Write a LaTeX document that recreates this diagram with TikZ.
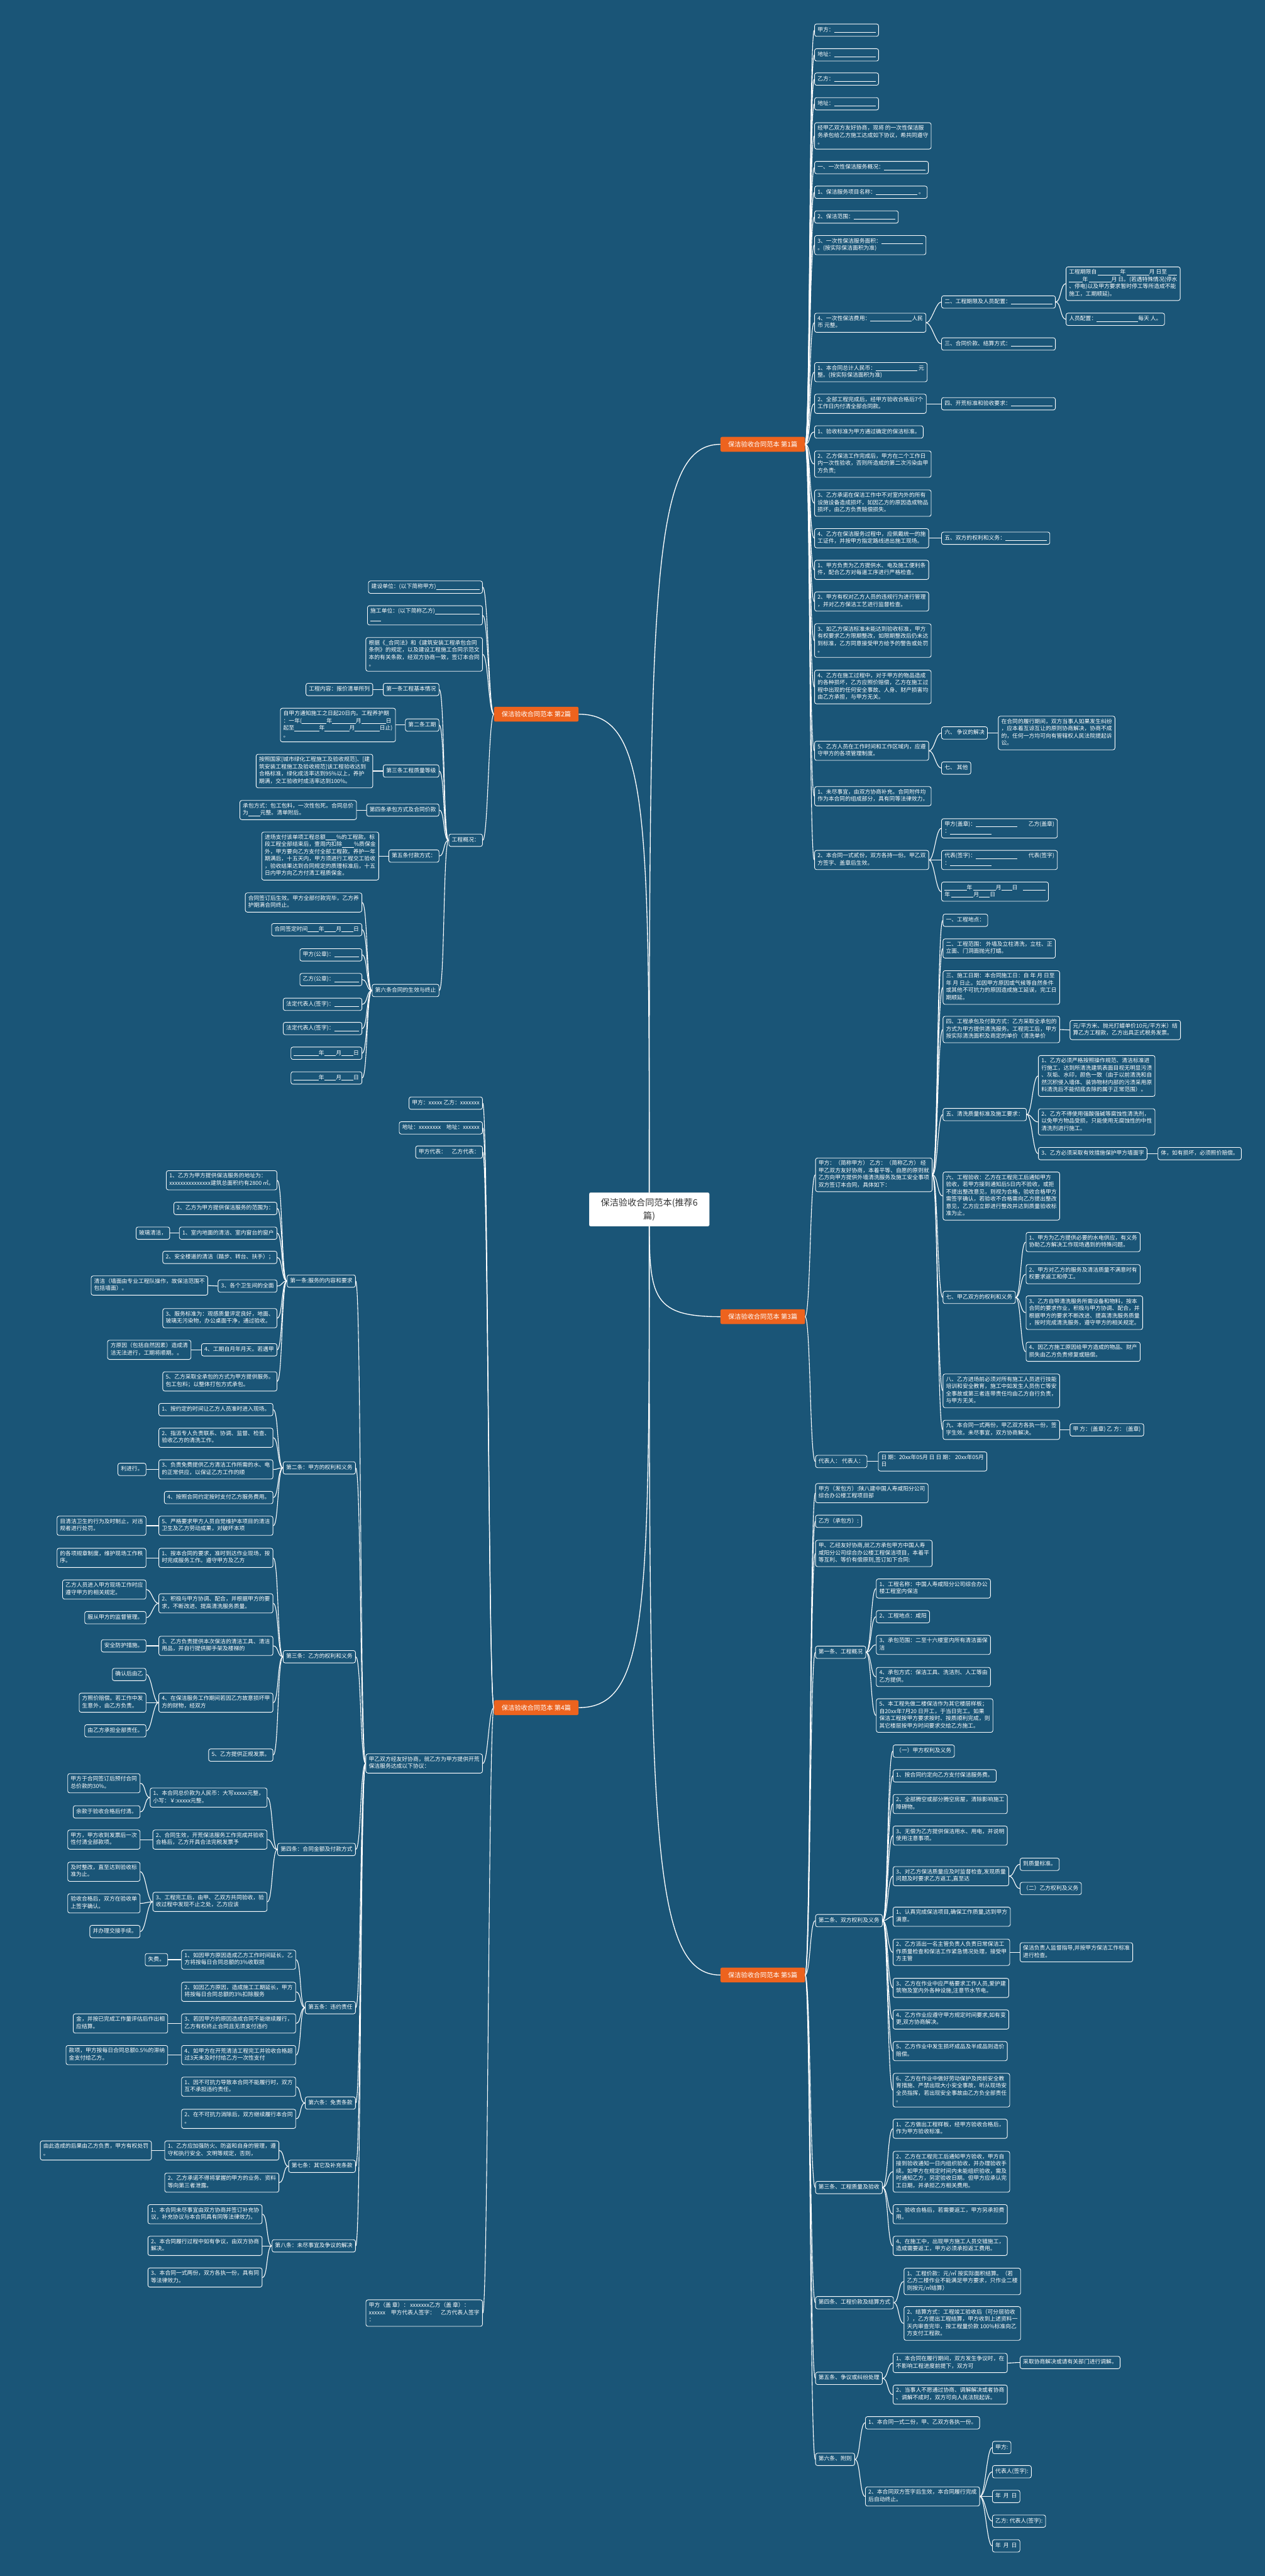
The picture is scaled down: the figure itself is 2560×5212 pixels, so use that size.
\documentclass[tikz,border=0pt]{standalone}
\usepackage{fontspec}
\setmainfont{Noto Sans CJK SC}
\usetikzlibrary{calc}
\pgfdeclarelayer{bg}
\pgfsetlayers{bg,main}
\definecolor{bgc}{RGB}{26,85,119}
\definecolor{org}{RGB}{237,99,30}
\definecolor{ctxt}{RGB}{51,51,51}
\newcommand\bl[1]{\rule[-1.8pt]{#1pt}{0.7pt}}
\tikzset{
  bx/.style={draw=white, line width=1.1pt, rounded corners=4pt, fill=bgc, text=white,
    font=\fontsize{11.2}{14.6}\selectfont, align=left, inner xsep=6pt, inner ysep=5.2pt,
    execute at begin node=\strut, execute at end node=\strut},
  rt/.style={bx, anchor=west},
  lt/.style={bx, anchor=east},
  orgbox/.style={fill=org, text=white, rounded corners=3pt, font=\fontsize{13}{16}\selectfont,
    minimum width=171pt, minimum height=30pt, inner xsep=4pt},
  cn/.style={draw=white, line width=1.4pt},
  cnc/.style={draw=white, line width=1.7pt},
}
\newcommand\conR[2]{\draw[cn] (#1.east) .. controls +(11,0) and +(-11,0) .. (#2.west);}
\newcommand\conL[2]{\draw[cn] (#1.west) .. controls +(-11,0) and +(11,0) .. (#2.east);}
\newcommand\conC[2]{\path (cen.center |- #1.#2) coordinate (tmpk);
  \draw[cnc] (cen.center) .. controls ($(cen.center)!0.8!(tmpk)$) and (tmpk) .. (#1.#2);}
\begin{document}
\begin{tikzpicture}[x=1pt,y=-1pt]
\begin{pgfonlayer}{bg}
\fill[bgc] (0,0) rectangle (2560,5212);
\end{pgfonlayer}
\useasboundingbox (0,0) rectangle (2560,5212);

% center and branches
\node[fill=white, draw=gray!30, rounded corners=3pt, text=ctxt, font=\fontsize{18}{27}\selectfont,
  align=center, minimum width=243pt, minimum height=68pt] (cen) at (1314,2447) {保洁验收合同范本(推荐6\\篇)};
\node[orgbox, anchor=west] (b1) at (1458,899) {保洁验收合同范本 第1篇};
\node[orgbox, anchor=east] (b2) at (1171,1445) {保洁验收合同范本 第2篇};
\node[orgbox, anchor=west] (b3) at (1458,2664) {保洁验收合同范本 第3篇};
\node[orgbox, anchor=east] (b4) at (1171,3455) {保洁验收合同范本 第4篇};
\node[orgbox, anchor=west] (b5) at (1458,3996) {保洁验收合同范本 第5篇};

% ---------------- 第1篇
\node[rt] (r1) at (1648,61) {甲方：\bl{84}};
\node[rt] (r2) at (1648,111) {地址：\bl{84}};
\node[rt] (r3) at (1648,160) {乙方：\bl{84}};
\node[rt] (r4) at (1648,210) {地址：\bl{84}};
\node[rt] (r5) at (1648,275) {经甲乙双方友好协商，现将 的一次性保洁服\\务承包给乙方施工达成如下协议，希共同遵守\\。};
\node[rt] (r6) at (1648,339) {一、一次性保洁服务概况：\bl{84}};
\node[rt] (r7) at (1648,389) {1、保洁服务项目名称：\bl{84} 。};
\node[rt] (r8) at (1648,439) {2、保洁范围：\bl{84}};
\node[rt] (r9) at (1648,496) {3、一次性保洁服务面积：\bl{84}\\。(按实际保洁面积为准)};
\node[rt] (r10) at (1648,653) {4、一次性保洁费用：\bl{84}人民\\币 元整。};
\node[rt] (r10a) at (1905,611) {二、工程期限及人员配置：\bl{84}};
\node[rt] (r10a1) at (2157,574) {工程期限自 \bl{45}年 \bl{45}月 日至 \bl{17}\\\bl{27}年 \bl{45}月 日。(若遇特殊情况(停水\\、停电)以及甲方要求暂时停工等所造成不能\\施工，工期顺延)。};
\node[rt] (r10a2) at (2157,646) {人员配置：\bl{84}每天 人。};
\node[rt] (r10b) at (1905,696) {三、合同价款、结算方式：\bl{84}};
\node[rt] (r11) at (1648,753) {1、本合同总计人民币：\bl{84} 元\\整。(按实际保洁面积为准)};
\node[rt] (r12) at (1648,817) {2、全部工程完成后，经甲方验收合格后7个\\工作日内付清全部合同款。};
\node[rt] (r12a) at (1905,817) {四、开荒标准和验收要求：\bl{84}};
\node[rt] (r13) at (1648,874) {1、验收标准为甲方通过确定的保洁标准。};
\node[rt] (r14) at (1648,939) {2、乙方保洁工作完成后，甲方在二个工作日\\内一次性验收，否则所造成的第二次污染由甲\\方负责;};
\node[rt] (r15) at (1648,1018) {3、乙方承诺在保洁工作中不对室内外的所有\\设施设备造成损坏，如因乙方的原因造成物品\\损坏，由乙方负责赔偿损失。};
\node[rt] (r16) at (1648,1089) {4、乙方在保洁服务过程中，应佩戴统一的施\\工证件，并按甲方指定路线进出施工现场。};
\node[rt] (r16a) at (1905,1089) {五、双方的权利和义务：\bl{84}};
\node[rt] (r17) at (1648,1153) {1、甲方负责为乙方提供水、电及施工便利条\\件，配合乙方对每道工序进行严格检查。};
\node[rt] (r18) at (1648,1217) {2、甲方有权对乙方人员的违规行为进行管理\\，并对乙方保洁工艺进行监督检查。};
\node[rt] (r19) at (1648,1296) {3、如乙方保洁标准未能达到验收标准，甲方\\有权要求乙方限期整改，如限期整改后仍未达\\到标准，乙方同意接受甲方给予的警告或处罚\\。};
\node[rt] (r20) at (1648,1390) {4、乙方在施工过程中，对于甲方的物品造成\\的各种损坏，乙方应照价赔偿，乙方在施工过\\程中出现的任何安全事故、人身、财产损害均\\由乙方承担，与甲方无关。};
\node[rt] (r21) at (1648,1519) {5、乙方人员在工作时间和工作区域内，应遵\\守甲方的各项管理制度。};
\node[rt] (r21a) at (1905,1483) {六、 争议的解决};
\node[rt] (r21a1) at (2020,1483) {在合同的履行期间，双方当事人如果发生纠纷\\，应本着互谅互让的原则协商解决，协商不成\\的，任何一方均可向有管辖权人民法院提起诉\\讼。};
\node[rt] (r21b) at (1905,1554) {七、 其他};
\node[rt] (r22) at (1648,1611) {1、未尽事宜，由双方协商补充。合同附件均\\作为本合同的组成部分，具有同等法律效力。};
\node[rt] (r23) at (1648,1740) {2、本合同一式贰份，双方各持一份。甲乙双\\方签字、盖章后生效。};
\node[rt] (r23a) at (1905,1676) {甲方(盖章)：\bl{84}\quad\quad 乙方(盖章)\\：\bl{84}};
\node[rt] (r23b) at (1905,1740) {代表(签字)：\bl{84}\quad\quad 代表(签字)\\：\bl{84}};
\node[rt] (r23c) at (1905,1804) {\bl{45}年 \bl{45}月\bl{22}日\quad \bl{45}\\年 \bl{45}月\bl{22}日};

% ---------------- 第3篇
\node[rt] (s1) at (1650,2377) {甲方：（简称甲方） 乙方：（简称乙方） 经\\甲乙双方友好协商，本着平等、自愿的原则就\\乙方向甲方提供外墙清洗服务及施工安全事项\\双方签订本合同，具体如下：};
\node[rt] (s1a) at (1908,1862) {一、工程地点：};
\node[rt] (s1b) at (1908,1919) {二、工程范围： 外墙及立柱清洗，立柱、正\\立面、门洞面抛光打蜡。};
\node[rt] (s1c) at (1908,1998) {三、施工日期：本合同施工日：自 年 月 日至\\ 年 月 日止。如因甲方原因或气候等自然条件\\或其他不可抗力的原因造成施工延误，完工日\\期顺延。};
\node[rt] (s1d) at (1908,2083) {四、工程承包及付款方式：乙方采取全承包的\\方式为甲方提供清洗服务。工程完工后，甲方\\按实际清洗面积及商定的单价（清洗单价};
\node[rt] (s1d1) at (2165,2084) {元/平方米、抛光打蜡单价10元/平方米）结\\算乙方工程款，乙方出具正式税务发票。};
\node[rt] (s1e) at (1908,2255) {五、清洗质量标准及施工要求：};
\node[rt] (s1e1) at (2101,2177) {1、乙方必须严格按照操作规范、清洁标准进\\行施工，达到所清洗建筑表面目视无明显污渍\\、灰垢、水印，颜色一致（由于以前清洗和自\\然沉积侵入墙体、装饰物材内部的污渍采用原\\料清洗后不能彻底去除的属于正常范围）。};
\node[rt] (s1e2) at (2101,2270) {2、乙方不得使用强酸强碱等腐蚀性清洗剂，\\以免甲方物品受损，只能使用无腐蚀性的中性\\清洗剂进行施工。};
\node[rt] (s1e3) at (2101,2334) {3、乙方必须采取有效措施保护甲方墙面字};
\node[rt] (s1e3a) at (2343,2334) {体，如有损坏，必须照价赔偿。};
\node[rt] (s1f) at (1908,2420) {六、工程验收：乙方在工程完工后通知甲方\\验收，若甲方接到通知后5日内不验收，或拒\\不提出整改意见，则视为合格，验收合格甲方\\需签字确认，若验收不合格需向乙方提出整改\\意见，乙方应立即进行整改并达到质量验收标\\准为止。};
\node[rt] (s1g) at (1908,2625) {七、甲乙双方的权利和义务};
\node[rt] (s1g1) at (2076,2513) {1、甲方为乙方提供必要的水电供应，有义务\\协助乙方解决工作现场遇到的特殊问题。};
\node[rt] (s1g2) at (2076,2578) {2、甲方对乙方的服务及清洁质量不满意时有\\权要求返工和停工。};
\node[rt] (s1g3) at (2076,2656) {3、乙方自带清洗服务所需设备和物料，按本\\合同的要求作业，积极与甲方协调、配合，并\\根据甲方的要求不断改进、提高清洗服务质量\\，按时完成清洗服务，遵守甲方的相关规定。};
\node[rt] (s1g4) at (2076,2735) {4、因乙方施工原因给甲方造成的物品、财产\\损失由乙方负责修复或赔偿。};
\node[rt] (s1h) at (1908,2814) {八、乙方进场前必须对所有施工人员进行技能\\培训和安全教育，施工中如发生人员伤亡等安\\全事故或第三者连带责任均由乙方自行负责，\\与甲方无关。};
\node[rt] (s1i) at (1908,2893) {九、本合同一式两份，甲乙双方各执一份，签\\字生效。未尽事宜，双方协商解决。};
\node[rt] (s1i1) at (2165,2893) {甲 方：(盖章) 乙 方： (盖章)};
\node[rt] (s2) at (1650,2957) {代表人： 代表人：};
\node[rt] (s2a) at (1777,2957) {日 期：20xx年05月 日 日 期： 20xx年05月\\日};

% ---------------- 第5篇
\node[rt] (t1) at (1650,3021) {甲方（发包方）:陕八建中国人寿咸阳分公司\\综合办公楼工程项目部};
\node[rt] (t2) at (1650,3078) {乙方（承包方）:};
\node[rt] (t3) at (1650,3143) {甲、乙经友好协商,就乙方承包甲方中国人寿\\咸阳分公司综合办公楼工程保洁项目，本着平\\等互利、等价有偿原则,签订如下合同:};
\node[rt] (t4) at (1650,3343) {第一条、工程概况};
\node[rt] (t4a) at (1773,3214) {1、工程名称：中国人寿咸阳分公司综合办公\\楼工程室内保洁};
\node[rt] (t4b) at (1773,3271) {2、工程地点：咸阳};
\node[rt] (t4c) at (1773,3328) {3、承包范围：二至十六楼室内所有清洁面保\\洁};
\node[rt] (t4d) at (1773,3393) {4、承包方式：保洁工具、洗洁剂、人工等由\\乙方提供。};
\node[rt] (t4e) at (1773,3471) {5、本工程先做二楼保洁作为其它楼层样板；\\自20xx年7月20 日开工，于当日完工。如果\\保洁工程按甲方要求按时、按质顺利完成，则\\其它楼层按甲方时间要求交给乙方施工。};
\node[rt] (t5) at (1650,3886) {第二条、双方权利及义务};
\node[rt] (t5a) at (1807,3543) {（一）甲方权利及义务};
\node[rt] (t5b) at (1807,3593) {1、按合同约定向乙方支付保洁服务费。};
\node[rt] (t5c) at (1807,3650) {2、全部腾空或部分腾空房屋，清除影响施工\\障碍物。};
\node[rt] (t5d) at (1807,3714) {3、无偿为乙方提供保洁用水、用电，并说明\\使用注意事项。};
\node[rt] (t5e) at (1807,3796) {3、对乙方保洁质量应及时监督检查,发现质量\\问题及时要求乙方返工,直至达};
\node[rt] (t5e1) at (2064,3772) {到质量标准。};
\node[rt] (t5e2) at (2064,3821) {（二）乙方权利及义务};
\node[rt] (t5f) at (1807,3878) {1、认真完成保洁项目,确保工作质量,达到甲方\\满意。};
\node[rt] (t5g) at (1807,3950) {2、乙方派出一名主管负责人负责日常保洁工\\作质量检查和保洁工作紧急情况处理，接受甲\\方主管};
\node[rt] (t5g1) at (2064,3950) {保洁负责人监督指导,并按甲方保洁工作标准\\进行检查。};
\node[rt] (t5h) at (1807,4022) {3、乙方在作业中应严格要求工作人员,爱护建\\筑物及室内外各种设施,注意节水节电。};
\node[rt] (t5i) at (1807,4086) {4、乙方作业应遵守甲方规定时间要求,如有变\\更,双方协商解决。};
\node[rt] (t5j) at (1807,4150) {5、乙方作业中发生损坏成品及半成品则造价\\赔偿。};
\node[rt] (t5k) at (1807,4229) {6、乙方在作业中做好劳动保护及岗前安全教\\育措施、严禁出现大小安全事故，听从现场安\\全员指挥，若出现安全事故由乙方负全部责任\\。};
\node[rt] (t6) at (1650,4426) {第三条、工程质量及验收};
\node[rt] (t6a) at (1807,4307) {1、乙方做出工程样板，经甲方验收合格后，\\作为甲方验收标准。};
\node[rt] (t6b) at (1807,4394) {2、乙方在工程完工后通知甲方验收，甲方自\\接到验收通知一日内组织验收，并办理验收手\\续。如甲方在规定时间内未能组织验收，需及\\时通知乙方，另定验收日期。但甲方应承认完\\工日期，并承担乙方相关费用。};
\node[rt] (t6c) at (1807,4480) {3、验收合格后，若需要返工，甲方另承担费\\用。};
\node[rt] (t6d) at (1807,4544) {4、在施工中，出现甲方施工人员交错施工，\\造成需要返工，甲方必须承担返工费用。};
\node[rt] (t7) at (1650,4659) {第四条、工程价款及结算方式};
\node[rt] (t7a) at (1829,4616) {1、工程价款：元/㎡ 按实际面积结算。（若\\乙方二楼作业不能满足甲方要求，只作业二楼\\则按元/㎡结算）};
\node[rt] (t7b) at (1829,4701) {2、结算方式：工程竣工验收后（可分层验收\\），乙方提出工程结算，甲方收到上述资料一\\天内审查完毕，按工程量价款 100\%标准向乙\\方支付工程款。};
\node[rt] (t8) at (1650,4812) {第五条、争议或纠纷处理};
\node[rt] (t8a) at (1807,4781) {1、本合同在履行期间，双方发生争议时，在\\不影响工程进度前提下，双方可};
\node[rt] (t8a1) at (2064,4780) {采取协商解决或请有关部门进行调解。};
\node[rt] (t8b) at (1807,4845) {2、当事人不愿通过协商、调解解决或者协商\\、调解不成时，双方可向人民法院起诉。};
\node[rt] (t9) at (1650,4976) {第六条、附则};
\node[rt] (t9a) at (1751,4902) {1、本合同一式二份，甲、乙双方各执一份。};
\node[rt] (t9b) at (1751,5051) {2、本合同双方签字后生效，本合同履行完成\\后自动终止。};
\node[rt] (t9b1) at (2008,4952) {甲方:};
\node[rt] (t9b2) at (2008,5001) {代表人(签字):};
\node[rt] (t9b3) at (2008,5051) {年\ \ 月\ \ 日};
\node[rt] (t9b4) at (2008,5101) {乙方: 代表人(签字):};
\node[rt] (t9b5) at (2008,5151) {年\ \ 月\ \ 日};

% ---------------- 第2篇
\node[lt] (u1) at (977,1188) {建设单位：(以下简称甲方)\bl{88}};
\node[lt] (u2) at (977,1245) {施工单位：(以下简称乙方)\bl{90}\\\bl{22}};
\node[lt] (u3) at (977,1324) {根据《\_合同法》和《建筑安装工程承包合同\\条例》的规定，以及建设工程施工合同示范文\\本的有关条款，经双方协商一致，签订本合同\\。};
\node[lt] (u4) at (977,1700) {工程概况：};
\node[lt] (u4a) at (889,1395) {第一条工程基本情况};
\node[lt] (u4a1) at (755,1395) {工程内容：报价清单所列};
\node[lt] (u4b) at (889,1467) {第二条工期};
\node[lt] (u4b1) at (801,1467) {自甲方通知施工之日起20日内。工程养护期\\：一年(\bl{50}年\bl{48}月\bl{50}日\\起至\bl{50}年\bl{50}月\bl{50}日止)\\。};
\node[lt] (u4c) at (889,1560) {第三条工程质量等级};
\node[lt] (u4c1) at (755,1560) {按照国家[城市绿化工程施工及验收规范]、[建\\筑安装工程施工及验收规范]该工程验收达到\\合格标准，绿化成活率达到95\%以上，养护\\期满，交工验收时成活率达到100\%。};
\node[lt] (u4d) at (889,1639) {第四条承包方式及合同价款};
\node[lt] (u4d1) at (722,1639) {承包方式：包工包料，一次性包死。合同总价\\为\bl{24}元整。清单附后。};
\node[lt] (u4e) at (889,1732) {第五条付款方式：};
\node[lt] (u4e1) at (767,1732) {进场支付该单项工程总额\bl{22}\%的工程款。标\\段工程全部结束后，壹周内扣除\bl{24}\%质保金\\外，甲方要向乙方支付全部工程款。养护一年\\期满后，十五天内，甲方须进行工程交工验收\\，验收结果达到合同规定的质理标准后，十五\\日内甲方向乙方付清工程质保金。};
\node[lt] (u4f) at (889,2004) {第六条合同的生效与终止};
\node[lt] (u4f1) at (733,1826) {合同签订后生效。甲方全部付款完毕，乙方养\\护期满合同终止。};
\node[lt] (u4f2) at (733,1881) {合同签定时间\bl{22}年\bl{24}月\bl{24}日};
\node[lt] (u4f3) at (733,1932) {甲方(公章)：\bl{50}};
\node[lt] (u4f4) at (733,1982) {乙方(公章)：\bl{50}};
\node[lt] (u4f5) at (733,2032) {法定代表人(签字)：\bl{50}};
\node[lt] (u4f6) at (733,2081) {法定代表人(签字)：\bl{50}};
\node[lt] (u4f7) at (733,2131) {\bl{50}年\bl{24}月\bl{24}日};
\node[lt] (u4f8) at (733,2181) {\bl{50}年\bl{24}月\bl{24}日};

% ---------------- 第4篇
\node[lt] (v1) at (977,2232) {甲方：xxxxx 乙方：xxxxxxx};
\node[lt] (v2) at (977,2282) {地址：xxxxxxxx\quad 地址：xxxxxx};
\node[lt] (v3) at (977,2331) {甲方代表：\quad 乙方代表：};
\node[lt] (v4) at (977,3568) {甲乙双方经友好协商，就乙方为甲方提供开荒\\保洁服务达成以下协议：};
\node[lt] (v4a) at (720,2592) {第一条:服务的内容和要求};
\node[lt] (v4a1) at (561,2388) {1、乙方为甲方提供保洁服务的地址为：\\xxxxxxxxxxxxxxx建筑总面积约有2800 ㎡。};
\node[lt] (v4a2) at (561,2445) {2、乙方为甲方提供保洁服务的范围为：};
\node[lt] (v4a3) at (561,2495) {1、室内地面的清洁、室内窗台的窗户};
\node[lt] (v4a3a) at (344,2495) {玻璃清洁，};
\node[lt] (v4a4) at (561,2544) {2、安全楼道的清洁（踏步、转台、扶手）；};
\node[lt] (v4a5) at (561,2602) {3、各个卫生间的全面};
\node[lt] (v4a5a) at (421,2601) {清洁（墙面由专业工程队操作，故保洁范围不\\包括墙面）。};
\node[lt] (v4a6) at (561,2667) {3、服务标准为：观感质量评定良好，地面、\\玻璃无污染物，办公桌面干净，通过验收。};
\node[lt] (v4a7) at (561,2731) {4、工期自月年月天。若遇甲};
\node[lt] (v4a7a) at (387,2731) {方原因（包括自然因素）造成清\\洁无法进行，工期将顺期。。};
\node[lt] (v4a8) at (561,2795) {5、乙方采取全承包的方式为甲方提供服务。\\包工包料；以整体打包方式承包。};
\node[lt] (v4b) at (720,2970) {第二条：甲方的权利和义务};
\node[lt] (v4b1) at (553,2852) {1、按约定的时间让乙方人员准时进入现场。};
\node[lt] (v4b2) at (553,2909) {2、指派专人负责联系、协调、监督、检查、\\验收乙方的清洗工作。};
\node[lt] (v4b3) at (553,2973) {3、负责免费提供乙方清洁工作所需的水、电\\的正常供应，以保证乙方工作的顺};
\node[lt] (v4b3a) at (296,2973) {利进行。};
\node[lt] (v4b4) at (553,3030) {4、按照合同约定按时支付乙方服务费用。};
\node[lt] (v4b5) at (553,3087) {5、严格要求甲方人员自觉维护本项目的清洁\\卫生及乙方劳动成果，对破坏本项};
\node[lt] (v4b5a) at (296,3087) {目清洁卫生的行为及时制止，对违\\规者进行处罚。};
\node[lt] (v4c) at (720,3352) {第三条：乙方的权利和义务};
\node[lt] (v4c1) at (553,3152) {1、按本合同的要求，准时到达作业现场，按\\时完成服务工作。遵守甲方及乙方};
\node[lt] (v4c1a) at (296,3152) {的各项规章制度，维护现场工作秩\\序。};
\node[lt] (v4c2) at (553,3244) {2、积极与甲方协调、配合，并根据甲方的要\\求，不断改进、提高清洗服务质量。};
\node[lt] (v4c2a) at (296,3216) {乙方人员进入甲方现场工作时应\\遵守甲方的相关规定。};
\node[lt] (v4c2b) at (296,3273) {服从甲方的监督管理。};
\node[lt] (v4c3) at (553,3330) {3、乙方负责提供本次保洁的清洁工具、清洁\\用品，并自行提供脚手架及楼梯的};
\node[lt] (v4c3a) at (296,3330) {安全防护措施。};
\node[lt] (v4c4) at (553,3445) {4、在保洁服务工作期间若因乙方故意损坏甲\\方的财物，经双方};
\node[lt] (v4c4a) at (296,3388) {确认后由乙};
\node[lt] (v4c4b) at (296,3445) {方照价赔偿。若工作中发\\生意外，由乙方负责。};
\node[lt] (v4c4c) at (296,3502) {由乙方承担全部责任。};
\node[lt] (v4c5) at (553,3551) {5、乙方提供正规发票。};
\node[lt] (v4d) at (720,3742) {第四条：合同金额及付款方式};
\node[lt] (v4d1) at (541,3637) {1、本合同总价款为人民币：大写xxxxx元整，\\小写：￥:xxxxx元整。};
\node[lt] (v4d1a) at (284,3608) {甲方于合同签订后预付合同\\总价款的30\%。};
\node[lt] (v4d1b) at (284,3666) {余款于验收合格后付清。};
\node[lt] (v4d2) at (541,3722) {2、合同生效，开荒保洁服务工作完成并验收\\合格后，乙方开具合法完税发票予};
\node[lt] (v4d2a) at (284,3722) {甲方，甲方收到发票后一次\\性付清全部款项。};
\node[lt] (v4d3) at (541,3848) {3、工程完工后，由甲、乙双方共同验收，验\\收过程中发现不止之处，乙方应该};
\node[lt] (v4d3a) at (284,3787) {及时整改，直至达到验收标\\准为止。};
\node[lt] (v4d3b) at (284,3851) {验收合格后，双方在验收单\\上签字确认。};
\node[lt] (v4d3c) at (284,3908) {并办理交接手续。};
\node[lt] (v4e) at (720,4062) {第五条：违约责任};
\node[lt] (v4e1) at (599,3965) {1、如因甲方原因造成乙方工作时间延长，乙\\方将按每日合同总额的3\%收取损};
\node[lt] (v4e1a) at (340,3965) {失费。};
\node[lt] (v4e2) at (599,4030) {2、如因乙方原因，造成施工工期延长，甲方\\将按每日合同总额的3\%扣除服务};
\node[lt] (v4e3) at (599,4094) {3、若因甲方的原因造成合同不能继续履行，\\乙方有权终止合同且无须支付违约};
\node[lt] (v4e3a) at (340,4094) {金，并按已完成工作量评估后作出相\\应结算。};
\node[lt] (v4e4) at (599,4158) {4、如甲方在开荒清洁工程完工并验收合格超\\过3天未及时付给乙方一次性支付};
\node[lt] (v4e4a) at (340,4158) {款项，甲方按每日合同总额0.5\%的滞纳\\金支付给乙方。};
\node[lt] (v4f) at (720,4255) {第六条：免责条款};
\node[lt] (v4f1) at (599,4222) {1、因不可抗力导致本合同不能履行时，双方\\互不承担违约责任。};
\node[lt] (v4f2) at (599,4287) {2、在不可抗力消除后，双方继续履行本合同\\。};
\node[lt] (v4g) at (720,4383) {第七条：其它及补充条款};
\node[lt] (v4g1) at (565,4351) {1、乙方应加强防火、防盗和自身的管理，遵\\守和执行安全、文明等规定，否则，};
\node[lt] (v4g1a) at (307,4351) {由此造成的后果由乙方负责，甲方有权处罚\\。};
\node[lt] (v4g2) at (565,4416) {2、乙方承诺不得将掌握的甲方的业务、资料\\等向第三者泄露。};
\node[lt] (v4h) at (720,4544) {第八条：未尽事宜及争议的解决};
\node[lt] (v4h1) at (531,4480) {1、本合同未尽事宜由双方协商并签订补充协\\议，补充协议与本合同具有同等法律效力。};
\node[lt] (v4h2) at (531,4544) {2、本合同履行过程中如有争议，由双方协商\\解决。};
\node[lt] (v4h3) at (531,4608) {3、本合同一式两份，双方各执一份，具有同\\等法律效力。};
\node[lt] (v5) at (977,4680) {甲方（盖 章）： xxxxxxx乙方（盖 章）：\\xxxxxx\quad 甲方代表人签字：\quad 乙方代表人签字\\：};

% ---------------- connectors
\begin{pgfonlayer}{bg}
\conC{b1}{west}\conC{b3}{west}\conC{b5}{west}\conC{b2}{east}\conC{b4}{east}
\foreach \c in {r1,r2,r3,r4,r5,r6,r7,r8,r9,r10,r11,r12,r13,r14,r15,r16,r17,r18,r19,r20,r21,r22,r23} {\conR{b1}{\c}}
\conR{r10}{r10a}\conR{r10}{r10b}\conR{r10a}{r10a1}\conR{r10a}{r10a2}
\conR{r12}{r12a}\conR{r16}{r16a}
\conR{r21}{r21a}\conR{r21}{r21b}\conR{r21a}{r21a1}
\conR{r23}{r23a}\conR{r23}{r23b}\conR{r23}{r23c}
\conR{b3}{s1}\conR{b3}{s2}\conR{s2}{s2a}
\foreach \c in {s1a,s1b,s1c,s1d,s1e,s1f,s1g,s1h,s1i} {\conR{s1}{\c}}
\conR{s1d}{s1d1}\conR{s1e}{s1e1}\conR{s1e}{s1e2}\conR{s1e}{s1e3}\conR{s1e3}{s1e3a}
\foreach \c in {s1g1,s1g2,s1g3,s1g4} {\conR{s1g}{\c}}
\conR{s1i}{s1i1}
\foreach \c in {t1,t2,t3,t4,t5,t6,t7,t8,t9} {\conR{b5}{\c}}
\foreach \c in {t4a,t4b,t4c,t4d,t4e} {\conR{t4}{\c}}
\foreach \c in {t5a,t5b,t5c,t5d,t5e,t5f,t5g,t5h,t5i,t5j,t5k} {\conR{t5}{\c}}
\conR{t5e}{t5e1}\conR{t5e}{t5e2}\conR{t5g}{t5g1}
\foreach \c in {t6a,t6b,t6c,t6d} {\conR{t6}{\c}}
\conR{t7}{t7a}\conR{t7}{t7b}
\conR{t8}{t8a}\conR{t8}{t8b}\conR{t8a}{t8a1}
\conR{t9}{t9a}\conR{t9}{t9b}
\foreach \c in {t9b1,t9b2,t9b3,t9b4,t9b5} {\conR{t9b}{\c}}
\foreach \c in {u1,u2,u3,u4} {\conL{b2}{\c}}
\foreach \c in {u4a,u4b,u4c,u4d,u4e,u4f} {\conL{u4}{\c}}
\conL{u4a}{u4a1}\conL{u4b}{u4b1}\conL{u4c}{u4c1}\conL{u4d}{u4d1}\conL{u4e}{u4e1}
\foreach \c in {u4f1,u4f2,u4f3,u4f4,u4f5,u4f6,u4f7,u4f8} {\conL{u4f}{\c}}
\foreach \c in {v1,v2,v3,v4,v5} {\conL{b4}{\c}}
\foreach \c in {v4a,v4b,v4c,v4d,v4e,v4f,v4g,v4h} {\conL{v4}{\c}}
\foreach \c in {v4a1,v4a2,v4a3,v4a4,v4a5,v4a6,v4a7,v4a8} {\conL{v4a}{\c}}
\conL{v4a3}{v4a3a}\conL{v4a5}{v4a5a}\conL{v4a7}{v4a7a}
\foreach \c in {v4b1,v4b2,v4b3,v4b4,v4b5} {\conL{v4b}{\c}}
\conL{v4b3}{v4b3a}\conL{v4b5}{v4b5a}
\foreach \c in {v4c1,v4c2,v4c3,v4c4,v4c5} {\conL{v4c}{\c}}
\conL{v4c1}{v4c1a}\conL{v4c2}{v4c2a}\conL{v4c2}{v4c2b}\conL{v4c3}{v4c3a}
\conL{v4c4}{v4c4a}\conL{v4c4}{v4c4b}\conL{v4c4}{v4c4c}
\foreach \c in {v4d1,v4d2,v4d3} {\conL{v4d}{\c}}
\conL{v4d1}{v4d1a}\conL{v4d1}{v4d1b}\conL{v4d2}{v4d2a}
\conL{v4d3}{v4d3a}\conL{v4d3}{v4d3b}\conL{v4d3}{v4d3c}
\foreach \c in {v4e1,v4e2,v4e3,v4e4} {\conL{v4e}{\c}}
\conL{v4e1}{v4e1a}\conL{v4e3}{v4e3a}\conL{v4e4}{v4e4a}
\conL{v4f}{v4f1}\conL{v4f}{v4f2}
\conL{v4g}{v4g1}\conL{v4g}{v4g2}\conL{v4g1}{v4g1a}
\foreach \c in {v4h1,v4h2,v4h3} {\conL{v4h}{\c}}
\end{pgfonlayer}
\end{tikzpicture}
\end{document}
